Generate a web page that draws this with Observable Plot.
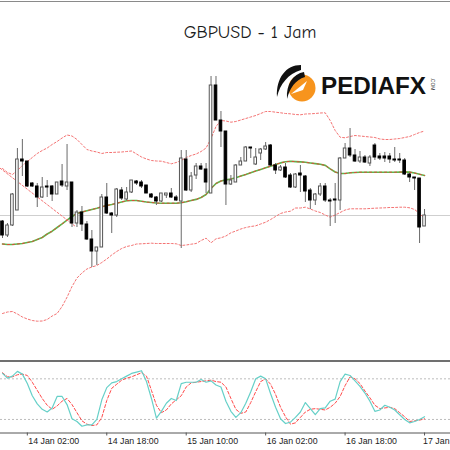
<!DOCTYPE html>
<html><head><meta charset="utf-8">
<script src="https://cdn.jsdelivr.net/npm/d3@7"></script>
<script src="https://cdn.jsdelivr.net/npm/@observablehq/plot@0.6"></script>
<style>
html,body{margin:0;padding:0;background:#fff;overflow:hidden}
#wrap{position:relative;width:450px;height:450px;overflow:hidden;background:#fff}
#wrap > svg{position:absolute;left:0}
</style></head><body><div id="wrap"></div>
<script>
const title = "GBPUSD - 1 Jam";
const brand = "PEDIAFX";
const brandSuffix = ".COM";

// hourly candles, index 0 = 13 Jan 21:00
const open = [1.3029,1.3015,1.3025,1.3040,1.3091,1.3089,1.3067,1.3064,1.3053,1.3064,
1.3064,1.3056,1.3069,1.3064,1.3068,1.3027,1.3038,1.3026,1.3011,1.2999,
1.3003,1.3053,1.3037,1.3035,1.3060,1.3051,1.3058,1.3069,1.3068,1.3065,
1.3056,1.3053,1.3049,1.3055,1.3057,1.3053,1.3049,1.3091,1.3060,1.3075,
1.3084,1.3081,1.3057,1.3165,1.3130,1.3119,1.3066,1.3068,1.3085,1.3089,
1.3103,1.3086,1.3097,1.3101,1.3105,1.3085,1.3080,1.3083,1.3075,1.3063,
1.3077,1.3074,1.3060,1.3050,1.3056,1.3064,1.3050,1.3051,1.3050,1.3092,
1.3102,1.3095,1.3089,1.3093,1.3087,1.3105,1.3094,1.3094,1.3094,1.3091,
1.3091,1.3090,1.3076,1.3073,1.3072,1.3024];
const high = [1.3030,1.3027,1.3057,1.3102,1.3111,1.3089,1.3068,1.3067,1.3073,1.3070,
1.3065,1.3068,1.3086,1.3106,1.3068,1.3040,1.3044,1.3029,1.3020,1.3003,
1.3056,1.3067,1.3038,1.3062,1.3063,1.3063,1.3070,1.3070,1.3070,1.3065,
1.3057,1.3054,1.3057,1.3057,1.3062,1.3055,1.3100,1.3100,1.3078,1.3087,
1.3087,1.3087,1.3174,1.3174,1.3139,1.3119,1.3075,1.3086,1.3093,1.3104,
1.3103,1.3102,1.3102,1.3108,1.3106,1.3087,1.3085,1.3087,1.3077,1.3077,
1.3085,1.3075,1.3062,1.3057,1.3067,1.3067,1.3052,1.3067,1.3093,1.3107,
1.3122,1.3101,1.3099,1.3095,1.3095,1.3107,1.3097,1.3098,1.3097,1.3103,
1.3097,1.3092,1.3077,1.3073,1.3072,1.3041];
const low = [1.3012,1.3013,1.3024,1.3040,1.3074,1.3063,1.3063,1.3043,1.3052,1.3053,
1.3049,1.3056,1.3063,1.3060,1.3023,1.3023,1.3019,1.3010,1.2983,1.2985,
1.3003,1.3036,1.3017,1.3033,1.3050,1.3050,1.3057,1.3065,1.3062,1.3057,
1.3052,1.3045,1.3048,1.3052,1.3052,1.3049,1.3002,1.3059,1.3058,1.3071,
1.3080,1.3057,1.3057,1.3130,1.3103,1.3045,1.3065,1.3068,1.3085,1.3089,
1.3092,1.3085,1.3090,1.3100,1.3084,1.3076,1.3079,1.3072,1.3062,1.3062,
1.3058,1.3048,1.3041,1.3045,1.3054,1.3048,1.3024,1.3027,1.3040,1.3092,
1.3093,1.3088,1.3087,1.3087,1.3084,1.3090,1.3090,1.3088,1.3087,1.3088,
1.3087,1.3075,1.3068,1.3060,1.3007,1.3024];
const close = [1.3015,1.3025,1.3056,1.3091,1.3089,1.3064,1.3064,1.3053,1.3063,1.3063,
1.3056,1.3068,1.3065,1.3068,1.3027,1.3038,1.3026,1.3011,1.2999,1.3003,
1.3053,1.3037,1.3035,1.3061,1.3052,1.3058,1.3070,1.3067,1.3064,1.3057,
1.3053,1.3049,1.3057,1.3057,1.3053,1.3050,1.3092,1.3060,1.3074,1.3084,
1.3081,1.3068,1.3165,1.3130,1.3119,1.3066,1.3070,1.3085,1.3089,1.3103,
1.3102,1.3093,1.3101,1.3104,1.3085,1.3080,1.3083,1.3073,1.3063,1.3076,
1.3075,1.3059,1.3050,1.3056,1.3064,1.3050,1.3049,1.3050,1.3092,1.3102,
1.3095,1.3089,1.3093,1.3088,1.3093,1.3093,1.3092,1.3092,1.3091,1.3090,
1.3090,1.3076,1.3073,1.3072,1.3023,1.3035];

// Bollinger bands
const bbUpper = [1.3082,1.3078,1.3076,1.3080,1.3085,1.3089,1.3093,1.3097,1.3100,1.31025,
1.3106,1.3109,1.31125,1.31155,1.31145,1.3111,1.3106,1.3101,1.30995,1.30985,
1.3097,1.3098,1.3098,1.30983,1.30985,1.3099,1.30995,1.30965,1.30935,1.30915,
1.3090,1.30895,1.30893,1.3088,1.30867,1.3088,1.3090,1.3093,1.3095,1.30965,
1.3099,1.31025,1.3112,1.3124,1.3130,1.31295,1.31283,1.3129,1.31305,1.3132,
1.31335,1.3135,1.3137,1.3139,1.3139,1.31383,1.31377,1.3137,1.31367,1.3136,
1.31357,1.31365,1.31367,1.3137,1.31375,1.31377,1.3130,1.3120,1.31133,1.31127,
1.3114,1.3115,1.31145,1.3114,1.31135,1.3113,1.31115,1.3111,1.3111,1.31115,
1.3112,1.3113,1.3114,1.3116,1.3118,1.31195];
const bbMiddle = [1.30065,1.3006,1.3006,1.30065,1.3007,1.3008,1.3009,1.3011,1.3013,1.30165,
1.30193,1.3023,1.30266,1.30304,1.3034,1.3037,1.30385,1.30398,1.3041,1.30422,
1.30438,1.3045,1.3046,1.30472,1.30485,1.30498,1.3050,1.3050,1.30492,1.30485,
1.3048,1.30475,1.30473,1.30473,1.30473,1.30473,1.30478,1.30488,1.3050,1.30511,
1.3053,1.3056,1.3062,1.3067,1.30695,1.30706,1.30715,1.30728,1.30744,1.3076,
1.30778,1.30795,1.30811,1.30827,1.30843,1.3086,1.30876,1.30887,1.30892,1.30889,
1.30886,1.30882,1.30875,1.30869,1.30862,1.30851,1.30817,1.30785,1.3077,1.3077,
1.30777,1.3078,1.30783,1.30783,1.30783,1.30783,1.30783,1.30783,1.30783,1.30783,
1.30784,1.30786,1.30784,1.30775,1.30762,1.3075];
const bbLower = [1.2937,1.29385,1.2939,1.29365,1.29335,1.29315,1.2930,1.29293,1.29295,1.2931,
1.29345,1.2937,1.2944,1.29533,1.2964,1.29725,1.29775,1.29815,1.29835,1.2985,
1.2988,1.29915,1.29955,1.2999,1.3002,1.3004,1.3005,1.30065,1.30067,1.3007,
1.30073,1.3007,1.3007,1.3007,1.3007,1.30067,1.3005,1.30055,1.30063,1.3007,
1.3010,1.30123,1.30077,1.30117,1.30127,1.30145,1.30177,1.30195,1.30215,1.3023,
1.3024,1.30247,1.30265,1.30283,1.3031,1.3034,1.3037,1.30385,1.30393,1.30425,
1.30425,1.30433,1.30415,1.30395,1.3038,1.30355,1.30333,1.30355,1.3038,1.30405,
1.30417,1.30417,1.30417,1.30417,1.3042,1.30423,1.30425,1.30427,1.3043,1.3043,
1.30433,1.30433,1.30427,1.3041,1.3037,1.3032];

// drawn trend line (bar index, price)
const trendIndex = [-3, 14.7];
const trendPrice = [1.3092, 1.3024];

// Stochastic oscillator
const stochMain = [88,81,84,91,87,73,55,43,35,31,
37,54,54,42,21,17,10,12,12,20,
49,67,74,76,80,84,88,90,92,76,
51,22,32,44,51,48,73,75,75,75,
79,75,77,71,68,47,32,23,30,44,
61,80,84,80,58,38,21,14,16,23,
31,45,36,27,36,37,47,50,76,87,
85,77,69,59,47,32,34,41,38,34,
27,20,15,17,20,24];
const stochSignal = [89,83,83,86,87,85,75,63,51,41,
35,40,47,51,42,30,18,13,11,12,
23,48,66,72,78,81,83,86,89,84,
63,41,30,34,43,49,55,68,74,75,
76,77,78,76,75,68,51,35,29,31,
45,61,76,80,72,57,38,24,13,15,
23,31,35,36,35,34,38,44,54,70,
83,80,73,62,52,41,36,37,38,36,
30,24,17,18,19,21];
const stochLevels = [20, 80];

const tickIndex = [5, 21, 37, 53, 69, 85];
const tickLabels = ["14 Jan 02:00", "14 Jan 18:00", "15 Jan 10:00", "16 Jan 02:00", "16 Jan 18:00", "17 Jan"];

const candles = open.map((o, i) => ({i, o, h: high[i], l: low[i], c: close[i]}));
const bands = bbUpper.map((u, i) => ({i, u, m: bbMiddle[i], lo: bbLower[i]}));
const trend = trendIndex.map((i, k) => ({i, p: trendPrice[k]}));
const stoch = stochMain.map((m, i) => ({i, m, s: stochSignal[i]}));
const ticks = tickIndex.map((i, k) => ({i, label: tickLabels[k], last: k === tickIndex.length - 1}));

const xDomain = [-0.403, 90.23];
const bandStroke = "#f47373";
const labelFont = "Liberation Sans, Arial, sans-serif";

const main = Plot.plot({
  width: 450, height: 360, margin: 0,
  x: {type: "linear", domain: xDomain, axis: null},
  y: {domain: [1.2890, 1.3250], axis: null},
  marks: [
    Plot.ruleY([close[close.length - 1]], {stroke: "#cfcfcf", strokeWidth: 1}),
    Plot.line(bands, {x: "i", y: "u", stroke: bandStroke, strokeWidth: 1, strokeDasharray: "2,2"}),
    Plot.line(bands, {x: "i", y: "lo", stroke: bandStroke, strokeWidth: 1, strokeDasharray: "2,2"}),
    Plot.line(bands, {x: "i", y: "m", stroke: "#5cb84a", strokeWidth: 1.6}),
    Plot.line(bands, {x: "i", y: "m", stroke: "#e04a3a", strokeWidth: 1, strokeDasharray: "2,3"}),
    Plot.line(trend, {x: "i", y: "p", stroke: bandStroke, strokeWidth: 1, strokeDasharray: "2,2"}),
    Plot.ruleX(candles, {x: "i", y1: "l", y2: "h", stroke: "#6a6a6a", strokeWidth: 1}),
    Plot.rect(candles.filter(d => d.c >= d.o), {x1: d => d.i - 0.26, x2: d => d.i + 0.26, y1: "o", y2: "c", fill: "white", stroke: "#555", strokeWidth: 1}),
    Plot.rect(candles.filter(d => d.c < d.o), {x1: d => d.i - 0.26, x2: d => d.i + 0.26, y1: "o", y2: "c", fill: "black", stroke: "black", strokeWidth: 1})
  ]
});
main.style.top = "0px";

const osc = Plot.plot({
  width: 450, height: 90, marginTop: 4.8, marginBottom: 17.5, marginLeft: 0, marginRight: 0,
  x: {type: "linear", domain: xDomain, axis: null},
  y: {domain: [0, 100], axis: null},
  marks: [
    Plot.ruleY(stochLevels, {stroke: "#bdbdbd", strokeDasharray: "2,2"}),
    Plot.line(stoch, {x: "i", y: "s", stroke: "#ff4a4a", strokeWidth: 1, strokeDasharray: "3,2"}),
    Plot.line(stoch, {x: "i", y: "m", stroke: "#66d0c8", strokeWidth: 1.2}),
    Plot.ruleY([0], {stroke: "#555", strokeWidth: 1}),
    Plot.ruleX(tickIndex, {x: d => d, y1: 0, y2: -4.4, stroke: "#555"}),
    Plot.text(ticks.filter(d => !d.last), {x: "i", text: "label", frameAnchor: "bottom", textAnchor: "start",
      lineAnchor: "top", dx: 1, dy: 5, fontSize: 8.8, fontFamily: labelFont, fill: "#222"}),
    Plot.text(ticks.filter(d => d.last), {x: "i", text: "label", frameAnchor: "bottom", textAnchor: "end",
      lineAnchor: "top", dx: 25, dy: 5, fontSize: 8.8, fontFamily: labelFont, fill: "#222"})
  ]
});
osc.style.top = "360px";

const wrap = document.getElementById("wrap");
wrap.appendChild(main);
wrap.appendChild(osc);

const ns = "http://www.w3.org/2000/svg";
const ov = document.createElementNS(ns, "svg");
ov.setAttribute("width", 450); ov.setAttribute("height", 450);
ov.style.top = "0px"; ov.style.pointerEvents = "none";
ov.innerHTML = `
  <line x1="0" x2="450" y1="1.5" y2="1.5" stroke="#8a8a8a" stroke-width="1"/>
  <line x1="0" x2="450" y1="361" y2="361" stroke="#707070" stroke-width="2"/>
  <text id="title" x="250" y="37.5" text-anchor="middle" font-family="'Comic Sans MS','Comic Neue','DejaVu Sans',sans-serif" font-size="18" fill="#1a1a1a"></text>
  <g>
    <circle cx="302" cy="88" r="13.5" fill="#f7941d"/>
    <path d="M291,94 L307,81 L303,90 Z" fill="#fff"/>
    <path d="M301,65 C286,65 276,78 277,97 C280,84 288,74 301,70 Z" fill="#111"/>
    <path d="M304,72 C293,74 286,84 287,99 C290,88 295,80 305,77 Z" fill="#111"/>
  </g>
  <text id="brand" x="321" y="93.5" font-family="'Liberation Sans',Arial,sans-serif" font-weight="bold" font-size="24" fill="#111" textLength="105" lengthAdjust="spacingAndGlyphs"></text>
  <text id="suffix" x="0" y="0" transform="translate(431,84) rotate(90)" text-anchor="middle" font-family="'Liberation Sans',Arial,sans-serif" font-size="5" fill="#333"></text>
`;
ov.querySelector("#title").textContent = title;
ov.querySelector("#brand").textContent = brand;
ov.querySelector("#suffix").textContent = brandSuffix;
wrap.appendChild(ov);
</script>
</body></html>
